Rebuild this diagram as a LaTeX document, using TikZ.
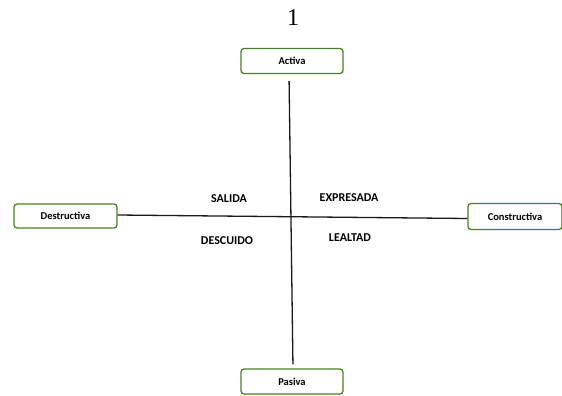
\documentclass[tikz,border=0pt]{standalone}
\usepackage{fontspec}
\setmainfont{Carlito}
\newfontfamily\numfont{Liberation Serif}
\definecolor{boxgreen}{RGB}{72,128,40}
\begin{document}
\begin{tikzpicture}[x=1pt,y=-1pt,
  box/.style={draw=boxgreen, line width=1.3pt, rounded corners=3pt, fill=white,
    minimum width=102pt, minimum height=25pt, inner sep=0pt, font=\bfseries\fontsize{10.5}{12}\selectfont},
  lab/.style={font=\bfseries\fontsize{12}{14}\selectfont, inner sep=0pt},
  axis/.style={line width=1.3pt, draw=black!90}]
\useasboundingbox (0,0) rectangle (562,396);
\node[font=\numfont\fontsize{24}{26}\selectfont, inner sep=0pt] (num) at (293,18) {1};
\node[box] (act) at (292,61) {Activa};
\node[box, minimum width=103pt, minimum height=24pt] (des) at (65.5,216) {Destructiva};
\node[box, minimum width=94pt, minimum height=26pt] (con) at (515,216.5) {Constructiva};
\node[box] (pas) at (292,381.5) {Pasiva};
\draw[axis, shorten <=7pt, shorten >=4pt] ([xshift=-3pt]act.south) -- ([xshift=1pt]pas.north);
\draw[axis] ([yshift=1pt]des.east) -- ([yshift=-2pt]con.west);
\node[lab] (sal) at (229,199) {SALIDA};
\node[lab] (exp) at (349,198) {EXPRESADA};
\node[lab] (desc) at (227,240.5) {DESCUIDO};
\node[lab] (leal) at (350,238) {LEALTAD};
\end{tikzpicture}
\end{document}
